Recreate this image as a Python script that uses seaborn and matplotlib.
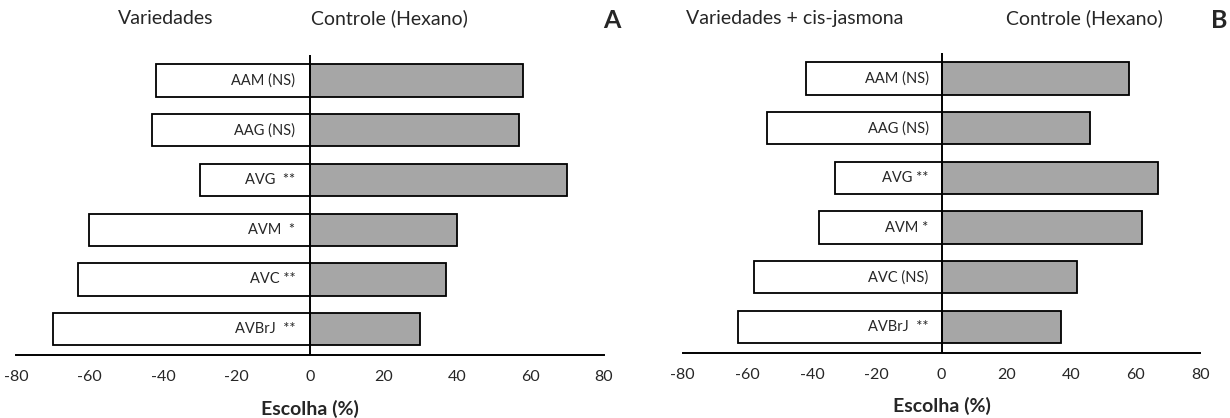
import numpy as np
import pandas as pd
import matplotlib.pyplot as plt
import seaborn as sns

sns.set_style("white")
plt.rcParams['font.family'] = ['Lato', 'DejaVu Sans']
plt.rcParams['axes.unicode_minus'] = False

# data (% choice)
labels_a = ["AAM (NS)", "AAG (NS)", "AVG  **", "AVM  *", "AVC **", "AVBrJ  **"]
var_a = [-42, -43, -30, -60, -63, -70]
ctrl_a = [58, 57, 70, 40, 37, 30]

labels_b = ["AAM (NS)", "AAG (NS)", "AVG **", "AVM *", "AVC (NS)", "AVBrJ  **"]
var_b = [-42, -54, -33, -38, -58, -63]
ctrl_b = [58, 46, 67, 62, 42, 37]

ticks = [-80, -60, -40, -20, 0, 20, 40, 60, 80]

fig = plt.figure(figsize=(12.3, 4.18), dpi=100)
ax_a = fig.add_axes([0.013, 0.151, 0.478, 0.718])
ax_b = fig.add_axes([0.555, 0.156, 0.421, 0.718])


def panel(ax, labels, var, ctrl):
    df = pd.DataFrame({"grupo": labels, "var": var, "ctrl": ctrl})
    sns.barplot(data=df, x="var", y="grupo", orient="h", color="white",
                edgecolor="black", linewidth=1.3, width=0.65, ax=ax)
    sns.barplot(data=df, x="ctrl", y="grupo", orient="h", color="#A6A6A6",
                edgecolor="black", linewidth=1.3, width=0.65, ax=ax,
                saturation=1)
    for i, lab in enumerate(labels):
        ax.text(-4, i, lab, ha="right", va="center", fontsize=10.5)
    ax.axvline(0, color="black", lw=1.4)
    ax.set_xlim(-80, 80)
    ax.set_ylim(5.52, -0.52)
    ax.set_xticks(ticks)
    ax.set_yticks([])
    ax.set_ylabel("")
    ax.set_xlabel("Escolha (%)", fontsize=14, fontweight="bold", labelpad=11)
    ax.tick_params(axis="x", length=0, pad=11, labelsize=11.5)
    for s in ["top", "right", "left"]:
        ax.spines[s].set_visible(False)
    ax.spines["bottom"].set_color("black")
    ax.spines["bottom"].set_linewidth(1.4)


panel(ax_a, labels_a, var_a, ctrl_a)
panel(ax_b, labels_b, var_b, ctrl_b)

fig.text(166 / 1230, 0.956, "Variedades", ha="center", va="center", fontsize=14)
fig.text(311 / 1230, 0.956, "Controle (Hexano)", ha="left", va="center", fontsize=14)
fig.text(612 / 1230, 0.950, "A", ha="center", va="center", fontsize=18, fontweight="bold")

fig.text(795 / 1230, 0.956, "Variedades + cis-jasmona", ha="center", va="center", fontsize=14)
fig.text(1084 / 1230, 0.956, "Controle (Hexano)", ha="center", va="center", fontsize=14)
fig.text(1219 / 1230, 0.950, "B", ha="center", va="center", fontsize=18, fontweight="bold")

fig.savefig("out.png", dpi=100)
